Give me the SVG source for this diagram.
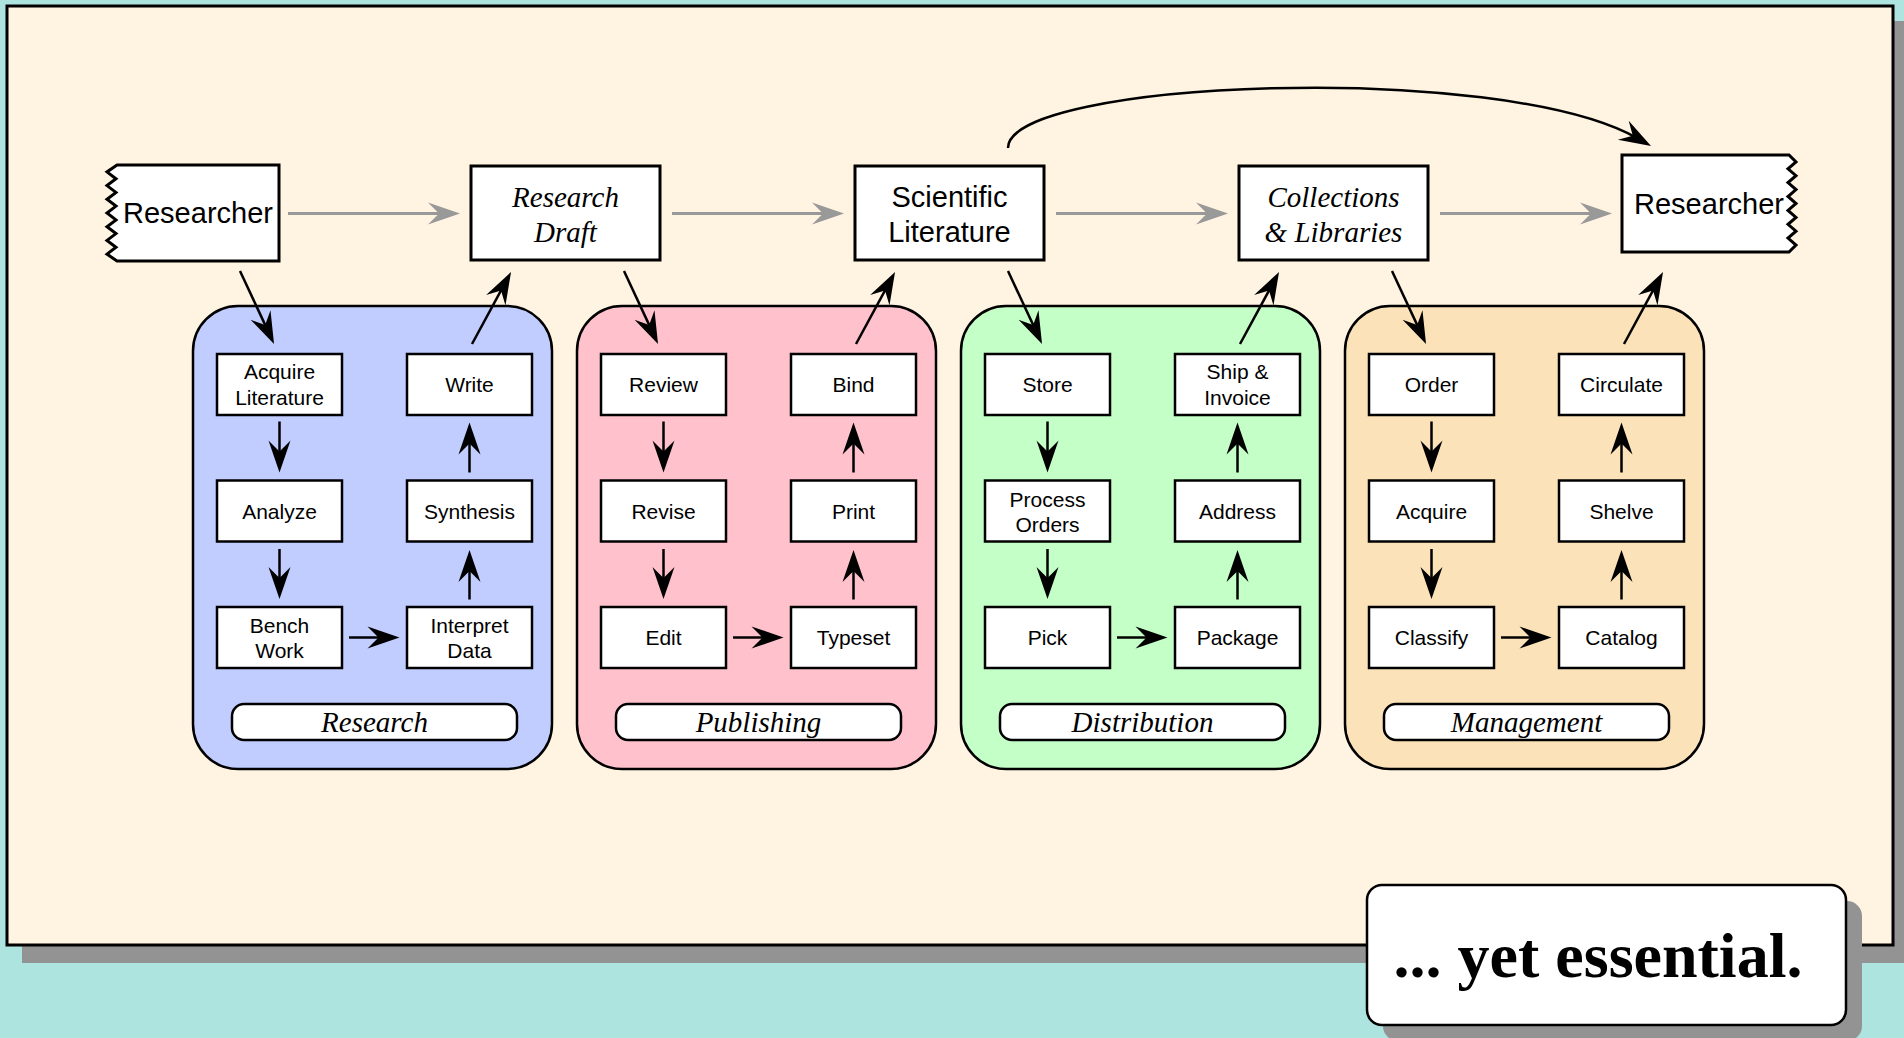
<svg xmlns="http://www.w3.org/2000/svg" width="1904" height="1038" viewBox="0 0 1904 1038">
  <style>
    .sans { font-family: "Liberation Sans", Arial, sans-serif; fill: #000; text-anchor: middle; }
    .serif-i { font-family: "Liberation Serif", "Times New Roman", serif; font-style: italic; fill: #000; text-anchor: middle; }
    .main { font-size: 29px; }
    .step { font-size: 21px; }
    .box { fill: #fff; stroke: #000; stroke-width: 3; }
    .sbox { fill: #fff; stroke: #000; stroke-width: 2.5; }
    .panel { stroke: #000; stroke-width: 2.5; }
    .pill { fill: #fff; stroke: #000; stroke-width: 2.5; }
    .flow { fill: none; stroke: #999; stroke-width: 3; }
    .link { fill: none; stroke: #000; stroke-width: 2.5; }
    .shadow { fill: #939393; }
  </style>
  <defs>
    <marker id="headBlack" viewBox="-18 -12 34 24" refX="0" refY="0" markerWidth="34" markerHeight="24" orient="auto" markerUnits="userSpaceOnUse">
      <path d="M15,0 L-17,-11 L-6,0 L-17,11 Z" fill="#000"/>
    </marker>
    <marker id="headGray" viewBox="-18 -12 34 24" refX="0" refY="0" markerWidth="34" markerHeight="24" orient="auto" markerUnits="userSpaceOnUse">
      <path d="M15,0 L-17,-11 L-6,0 L-17,11 Z" fill="#999"/>
    </marker>
  </defs>

  <!-- page background, shadow and sheet -->
  <rect x="0" y="0" width="1904" height="1038" fill="#AEE4E0"/>
  <rect class="shadow" x="22" y="21" width="1890" height="942"/>
  <rect x="7" y="6" width="1886" height="939" fill="#FFF3E1" stroke="#000" stroke-width="3"/>

  <!-- top row of main stages -->
  <g id="researcher-start">
    <path class="box" d="M117,165 H279 V261 H117 L107,254.1 L116,247.3 L107,240.4 L116,233.6 L107,226.7 L116,219.9 L107,213 L116,206.1 L107,199.3 L116,192.4 L107,185.6 L116,178.7 L107,171.9 Z"/>
    <text class="sans main" x="198" y="223">Researcher</text>
  </g>
  <g id="research-draft">
    <rect class="box" x="471" y="166" width="189" height="94"/>
    <text class="serif-i main" x="565.5" y="207">Research</text>
    <text class="serif-i main" x="565.5" y="241.5">Draft</text>
  </g>
  <g id="scientific-literature">
    <rect class="box" x="855" y="166" width="189" height="94"/>
    <text class="sans main" x="949.5" y="207">Scientific</text>
    <text class="sans main" x="949.5" y="242">Literature</text>
  </g>
  <g id="collections-libraries">
    <rect class="box" x="1239" y="166" width="189" height="94"/>
    <text class="serif-i main" x="1333.5" y="207">Collections</text>
    <text class="serif-i main" x="1333.5" y="241.5">&amp; Libraries</text>
  </g>
  <g id="researcher-end">
    <path class="box" d="M1622,155 H1789 L1796,161.9 L1788,168.8 L1796,175.7 L1788,182.6 L1796,189.6 L1788,196.5 L1796,203.5 L1788,210.4 L1796,217.4 L1788,224.3 L1796,231.2 L1788,238.1 L1796,245.1 L1789,252 H1622 Z"/>
    <text class="sans main" x="1709" y="214">Researcher</text>
  </g>

  <!-- Research panel -->
  <g id="panel-research">
    <rect class="panel" x="193" y="306" width="359" height="463" rx="45" fill="#C1CDFF"/>
    <g id="acquire-literature">
      <rect class="sbox" x="217" y="354" width="125" height="61"/>
      <text class="sans step" x="279.5" y="379.3">Acquire</text>
      <text class="sans step" x="279.5" y="405.3">Literature</text>
    </g>
    <g id="analyze">
      <rect class="sbox" x="217" y="480.5" width="125" height="61"/>
      <text class="sans step" x="279.5" y="518.5">Analyze</text>
    </g>
    <g id="bench-work">
      <rect class="sbox" x="217" y="607" width="125" height="61"/>
      <text class="sans step" x="279.5" y="633.3">Bench</text>
      <text class="sans step" x="279.5" y="658.3">Work</text>
    </g>
    <g id="write">
      <rect class="sbox" x="407" y="354" width="125" height="61"/>
      <text class="sans step" x="469.5" y="392">Write</text>
    </g>
    <g id="synthesis">
      <rect class="sbox" x="407" y="480.5" width="125" height="61"/>
      <text class="sans step" x="469.5" y="518.5">Synthesis</text>
    </g>
    <g id="interpret-data">
      <rect class="sbox" x="407" y="607" width="125" height="61"/>
      <text class="sans step" x="469.5" y="633.3">Interpret</text>
      <text class="sans step" x="469.5" y="658.3">Data</text>
    </g>
    <g id="label-research">
      <rect class="pill" x="232" y="704" width="285" height="36" rx="12"/>
      <text class="serif-i main" x="374.5" y="732">Research</text>
    </g>
  </g>

  <!-- Publishing panel -->
  <g id="panel-publishing">
    <rect class="panel" x="577" y="306" width="359" height="463" rx="45" fill="#FFC2CD"/>
    <g id="review">
      <rect class="sbox" x="601" y="354" width="125" height="61"/>
      <text class="sans step" x="663.5" y="392">Review</text>
    </g>
    <g id="revise">
      <rect class="sbox" x="601" y="480.5" width="125" height="61"/>
      <text class="sans step" x="663.5" y="518.5">Revise</text>
    </g>
    <g id="edit">
      <rect class="sbox" x="601" y="607" width="125" height="61"/>
      <text class="sans step" x="663.5" y="645">Edit</text>
    </g>
    <g id="bind">
      <rect class="sbox" x="791" y="354" width="125" height="61"/>
      <text class="sans step" x="853.5" y="392">Bind</text>
    </g>
    <g id="print">
      <rect class="sbox" x="791" y="480.5" width="125" height="61"/>
      <text class="sans step" x="853.5" y="518.5">Print</text>
    </g>
    <g id="typeset">
      <rect class="sbox" x="791" y="607" width="125" height="61"/>
      <text class="sans step" x="853.5" y="645">Typeset</text>
    </g>
    <g id="label-publishing">
      <rect class="pill" x="616" y="704" width="285" height="36" rx="12"/>
      <text class="serif-i main" x="758.5" y="732">Publishing</text>
    </g>
  </g>

  <!-- Distribution panel -->
  <g id="panel-distribution">
    <rect class="panel" x="961" y="306" width="359" height="463" rx="45" fill="#C5FFC8"/>
    <g id="store">
      <rect class="sbox" x="985" y="354" width="125" height="61"/>
      <text class="sans step" x="1047.5" y="392">Store</text>
    </g>
    <g id="process-orders">
      <rect class="sbox" x="985" y="480.5" width="125" height="61"/>
      <text class="sans step" x="1047.5" y="506.8">Process</text>
      <text class="sans step" x="1047.5" y="531.8">Orders</text>
    </g>
    <g id="pick">
      <rect class="sbox" x="985" y="607" width="125" height="61"/>
      <text class="sans step" x="1047.5" y="645">Pick</text>
    </g>
    <g id="ship-invoice">
      <rect class="sbox" x="1175" y="354" width="125" height="61"/>
      <text class="sans step" x="1237.5" y="379.3">Ship &amp;</text>
      <text class="sans step" x="1237.5" y="405.3">Invoice</text>
    </g>
    <g id="address">
      <rect class="sbox" x="1175" y="480.5" width="125" height="61"/>
      <text class="sans step" x="1237.5" y="518.5">Address</text>
    </g>
    <g id="package">
      <rect class="sbox" x="1175" y="607" width="125" height="61"/>
      <text class="sans step" x="1237.5" y="645">Package</text>
    </g>
    <g id="label-distribution">
      <rect class="pill" x="1000" y="704" width="285" height="36" rx="12"/>
      <text class="serif-i main" x="1142.5" y="732">Distribution</text>
    </g>
  </g>

  <!-- Management panel -->
  <g id="panel-management">
    <rect class="panel" x="1345" y="306" width="359" height="463" rx="45" fill="#FBE2B9"/>
    <g id="order">
      <rect class="sbox" x="1369" y="354" width="125" height="61"/>
      <text class="sans step" x="1431.5" y="392">Order</text>
    </g>
    <g id="acquire">
      <rect class="sbox" x="1369" y="480.5" width="125" height="61"/>
      <text class="sans step" x="1431.5" y="518.5">Acquire</text>
    </g>
    <g id="classify">
      <rect class="sbox" x="1369" y="607" width="125" height="61"/>
      <text class="sans step" x="1431.5" y="645">Classify</text>
    </g>
    <g id="circulate">
      <rect class="sbox" x="1559" y="354" width="125" height="61"/>
      <text class="sans step" x="1621.5" y="392">Circulate</text>
    </g>
    <g id="shelve">
      <rect class="sbox" x="1559" y="480.5" width="125" height="61"/>
      <text class="sans step" x="1621.5" y="518.5">Shelve</text>
    </g>
    <g id="catalog">
      <rect class="sbox" x="1559" y="607" width="125" height="61"/>
      <text class="sans step" x="1621.5" y="645">Catalog</text>
    </g>
    <g id="label-management">
      <rect class="pill" x="1384" y="704" width="285" height="36" rx="12"/>
      <text class="serif-i main" x="1526.5" y="732">Management</text>
    </g>
  </g>

  <!-- connectors -->
  <g id="connectors">
    <!-- main flow along the top row -->
    <line class="flow" x1="288" y1="213.5" x2="445" y2="213.5" marker-end="url(#headGray)"/>
    <line class="flow" x1="672" y1="213.5" x2="829" y2="213.5" marker-end="url(#headGray)"/>
    <line class="flow" x1="1056" y1="213.5" x2="1213" y2="213.5" marker-end="url(#headGray)"/>
    <line class="flow" x1="1440" y1="213.5" x2="1597" y2="213.5" marker-end="url(#headGray)"/>

    <!-- shortcut from literature straight to the researcher -->
    <path class="link" d="M1008,148 C1008,80 1500,60 1638,138.6" marker-end="url(#headBlack)"/>

    <!-- into and out of each panel -->
    <line class="link" x1="240" y1="271" x2="267.7" y2="330.4" marker-end="url(#headBlack)"/>
    <line class="link" x1="472" y1="344" x2="503.9" y2="285.2" marker-end="url(#headBlack)"/>
    <line class="link" x1="624" y1="271" x2="651.7" y2="330.4" marker-end="url(#headBlack)"/>
    <line class="link" x1="856" y1="344" x2="887.9" y2="285.2" marker-end="url(#headBlack)"/>
    <line class="link" x1="1008" y1="271" x2="1035.7" y2="330.4" marker-end="url(#headBlack)"/>
    <line class="link" x1="1240" y1="344" x2="1271.9" y2="285.2" marker-end="url(#headBlack)"/>
    <line class="link" x1="1392" y1="271" x2="1419.7" y2="330.4" marker-end="url(#headBlack)"/>
    <line class="link" x1="1624" y1="344" x2="1655.9" y2="285.2" marker-end="url(#headBlack)"/>

    <!-- Research steps -->
    <line class="link" x1="279.5" y1="421.5" x2="279.5" y2="457.5" marker-end="url(#headBlack)"/>
    <line class="link" x1="279.5" y1="549" x2="279.5" y2="584" marker-end="url(#headBlack)"/>
    <line class="link" x1="349" y1="637.5" x2="384.5" y2="637.5" marker-end="url(#headBlack)"/>
    <line class="link" x1="469.5" y1="599.5" x2="469.5" y2="565" marker-end="url(#headBlack)"/>
    <line class="link" x1="469.5" y1="472.5" x2="469.5" y2="437.5" marker-end="url(#headBlack)"/>

    <!-- Publishing steps -->
    <line class="link" x1="663.5" y1="421.5" x2="663.5" y2="457.5" marker-end="url(#headBlack)"/>
    <line class="link" x1="663.5" y1="549" x2="663.5" y2="584" marker-end="url(#headBlack)"/>
    <line class="link" x1="733" y1="637.5" x2="768.5" y2="637.5" marker-end="url(#headBlack)"/>
    <line class="link" x1="853.5" y1="599.5" x2="853.5" y2="565" marker-end="url(#headBlack)"/>
    <line class="link" x1="853.5" y1="472.5" x2="853.5" y2="437.5" marker-end="url(#headBlack)"/>

    <!-- Distribution steps -->
    <line class="link" x1="1047.5" y1="421.5" x2="1047.5" y2="457.5" marker-end="url(#headBlack)"/>
    <line class="link" x1="1047.5" y1="549" x2="1047.5" y2="584" marker-end="url(#headBlack)"/>
    <line class="link" x1="1117" y1="637.5" x2="1152.5" y2="637.5" marker-end="url(#headBlack)"/>
    <line class="link" x1="1237.5" y1="599.5" x2="1237.5" y2="565" marker-end="url(#headBlack)"/>
    <line class="link" x1="1237.5" y1="472.5" x2="1237.5" y2="437.5" marker-end="url(#headBlack)"/>

    <!-- Management steps -->
    <line class="link" x1="1431.5" y1="421.5" x2="1431.5" y2="457.5" marker-end="url(#headBlack)"/>
    <line class="link" x1="1431.5" y1="549" x2="1431.5" y2="584" marker-end="url(#headBlack)"/>
    <line class="link" x1="1501" y1="637.5" x2="1536.5" y2="637.5" marker-end="url(#headBlack)"/>
    <line class="link" x1="1621.5" y1="599.5" x2="1621.5" y2="565" marker-end="url(#headBlack)"/>
    <line class="link" x1="1621.5" y1="472.5" x2="1621.5" y2="437.5" marker-end="url(#headBlack)"/>
  </g>

  <!-- caption card -->
  <g id="caption">
    <rect class="shadow" x="1383" y="901" width="479" height="140" rx="15"/>
    <rect x="1367" y="885" width="479" height="140" rx="15" fill="#fff" stroke="#000" stroke-width="2.5"/>
    <text x="1598" y="977" font-family="'Liberation Serif', 'Times New Roman', serif" font-weight="bold" font-size="64" text-anchor="middle" fill="#000">... yet essential.</text>
  </g>
</svg>
